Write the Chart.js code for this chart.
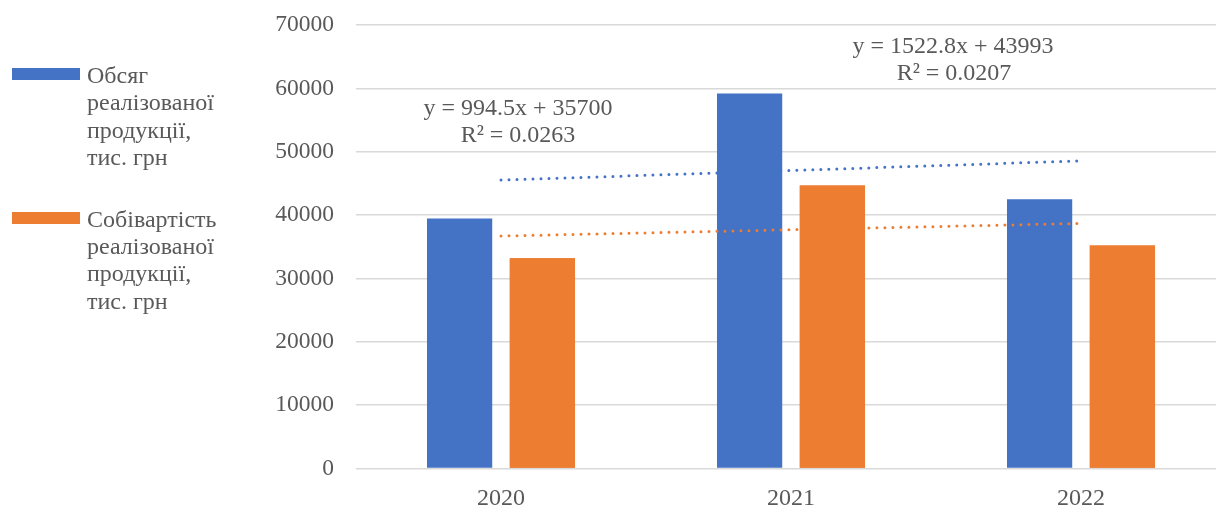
<!DOCTYPE html>
<html>
<head>
<meta charset="utf-8">
<script src="https://cdn.jsdelivr.net/npm/chart.js@4/dist/chart.umd.min.js"></script>
<style>
  html, body { margin: 0; padding: 0; background: #ffffff; overflow: hidden; }
  #wrap { position: relative; width: 1226px; height: 506px; }
</style>
</head>
<body>
<div id="wrap"><canvas id="chart"></canvas></div>
<script>
// Categories and series values (тис. грн)
const years = ['2020', '2021', '2022'];
const salesVolume = [39450, 59170, 42500];
const costOfSales = [33200, 44680, 35190];

// Linear trend coefficients as printed on the chart: y = slope * x + intercept
const salesTrend = [1522.8, 43993];
const costTrend = [994.5, 35700];
const salesTrendLabel = ['y = 1522.8x + 43993', 'R² = 0.0207'];
const costTrendLabel = ['y = 994.5x + 35700', 'R² = 0.0263'];

// Legend captions, one entry per text line
const salesLegend = ['Обсяг', 'реалізованої', 'продукції,', 'тис. грн'];
const costLegend = ['Собівартість', 'реалізованої', 'продукції,', 'тис. грн'];

// Y axis ticks
const yMin = 0, yMax = 70000, yStep = 10000;

const BLUE = '#4472C4';
const ORANGE = '#ED7D31';
const TEXT = '#595959';
const FONT = '"Liberation Serif", "Times New Roman", serif';

const trendPoints = (coef) => years.map((_, i) => coef[0] * (i + 1) + coef[1]);

// Orange bars sit above the orange trend line, which itself crosses over the blue bars
const layering = {
  id: 'layering',
  afterDatasetsDraw(chart) {
    const meta = chart.getDatasetMeta(1);
    const area = chart.chartArea;
    const ctx = chart.ctx;
    ctx.save();
    ctx.beginPath();
    ctx.rect(area.left, area.top, area.right - area.left, area.bottom - area.top);
    ctx.clip();
    meta.controller.draw();
    ctx.restore();
  }
};

// Legend and trend-equation captions drawn on the canvas
const annotations = {
  id: 'annotations',
  afterDraw(chart) {
    const ctx = chart.ctx;
    ctx.save();
    ctx.font = '24px ' + FONT;
    ctx.fillStyle = TEXT;
    ctx.textBaseline = 'alphabetic';

    // legend
    const drawEntry = (color, boxTop, lines, firstBaseline) => {
      ctx.fillStyle = color;
      ctx.fillRect(12, boxTop, 68, 12);
      ctx.fillStyle = TEXT;
      ctx.textAlign = 'left';
      lines.forEach((t, i) => ctx.fillText(t, 87, firstBaseline + i * 27.4));
    };
    drawEntry(BLUE, 68, salesLegend, 83);
    drawEntry(ORANGE, 212, costLegend, 226.5);

    // trend equations
    ctx.textAlign = 'center';
    ctx.fillText(costTrendLabel[0], 518, 115);
    ctx.fillText(costTrendLabel[1], 518, 141.5);
    ctx.fillText(salesTrendLabel[0], 953, 53);
    ctx.fillText(salesTrendLabel[1], 954, 80);
    ctx.restore();
  }
};

new Chart(document.getElementById('chart'), {
  type: 'bar',
  data: {
    labels: years,
    datasets: [
      {
        label: 'Обсяг реалізованої продукції, тис. грн',
        data: salesVolume,
        backgroundColor: BLUE,
        categoryPercentage: 0.571,
        barPercentage: 0.788,
        order: 1
      },
      {
        label: 'Собівартість реалізованої продукції, тис. грн',
        data: costOfSales,
        backgroundColor: ORANGE,
        categoryPercentage: 0.571,
        barPercentage: 0.788,
        order: 1
      },
      {
        type: 'line',
        label: 'trend-sales',
        data: trendPoints(salesTrend),
        borderColor: BLUE,
        borderWidth: 3,
        borderDash: [0, 8],
        borderCapStyle: 'round',
        pointRadius: 0,
        fill: false,
        tension: 0,
        order: 2
      },
      {
        type: 'line',
        label: 'trend-cost',
        data: trendPoints(costTrend),
        borderColor: ORANGE,
        borderWidth: 3,
        borderDash: [0, 8],
        borderCapStyle: 'round',
        pointRadius: 0,
        fill: false,
        tension: 0,
        order: 0
      }
    ]
  },
  options: {
    responsive: true,
    maintainAspectRatio: false,
    animation: false,
    layout: { padding: { top: 25, left: 0, right: 0, bottom: 0 } },
    plugins: {
      legend: { display: false },
      tooltip: { enabled: false }
    },
    scales: {
      x: {
        offset: true,
        grid: { display: false },
        border: { display: false },
        ticks: {
          color: TEXT,
          font: { family: FONT, size: 24 },
          padding: 8
        },
        afterFit(scale) { scale.height = 37.5; }
      },
      y: {
        min: yMin,
        max: yMax,
        grid: { color: '#d9d9d9', lineWidth: 1.5, drawTicks: false },
        border: { display: false },
        ticks: {
          stepSize: yStep,
          color: TEXT,
          font: { family: FONT, size: 23.5 },
          padding: 22,
          callback: (v) => String(v)
        },
        afterFit(scale) {
          scale.width = 356;
          scale.paddingTop = 0;
          scale.paddingBottom = 0;
        }
      }
    }
  },
  plugins: [layering, annotations]
});
</script>
</body>
</html>
